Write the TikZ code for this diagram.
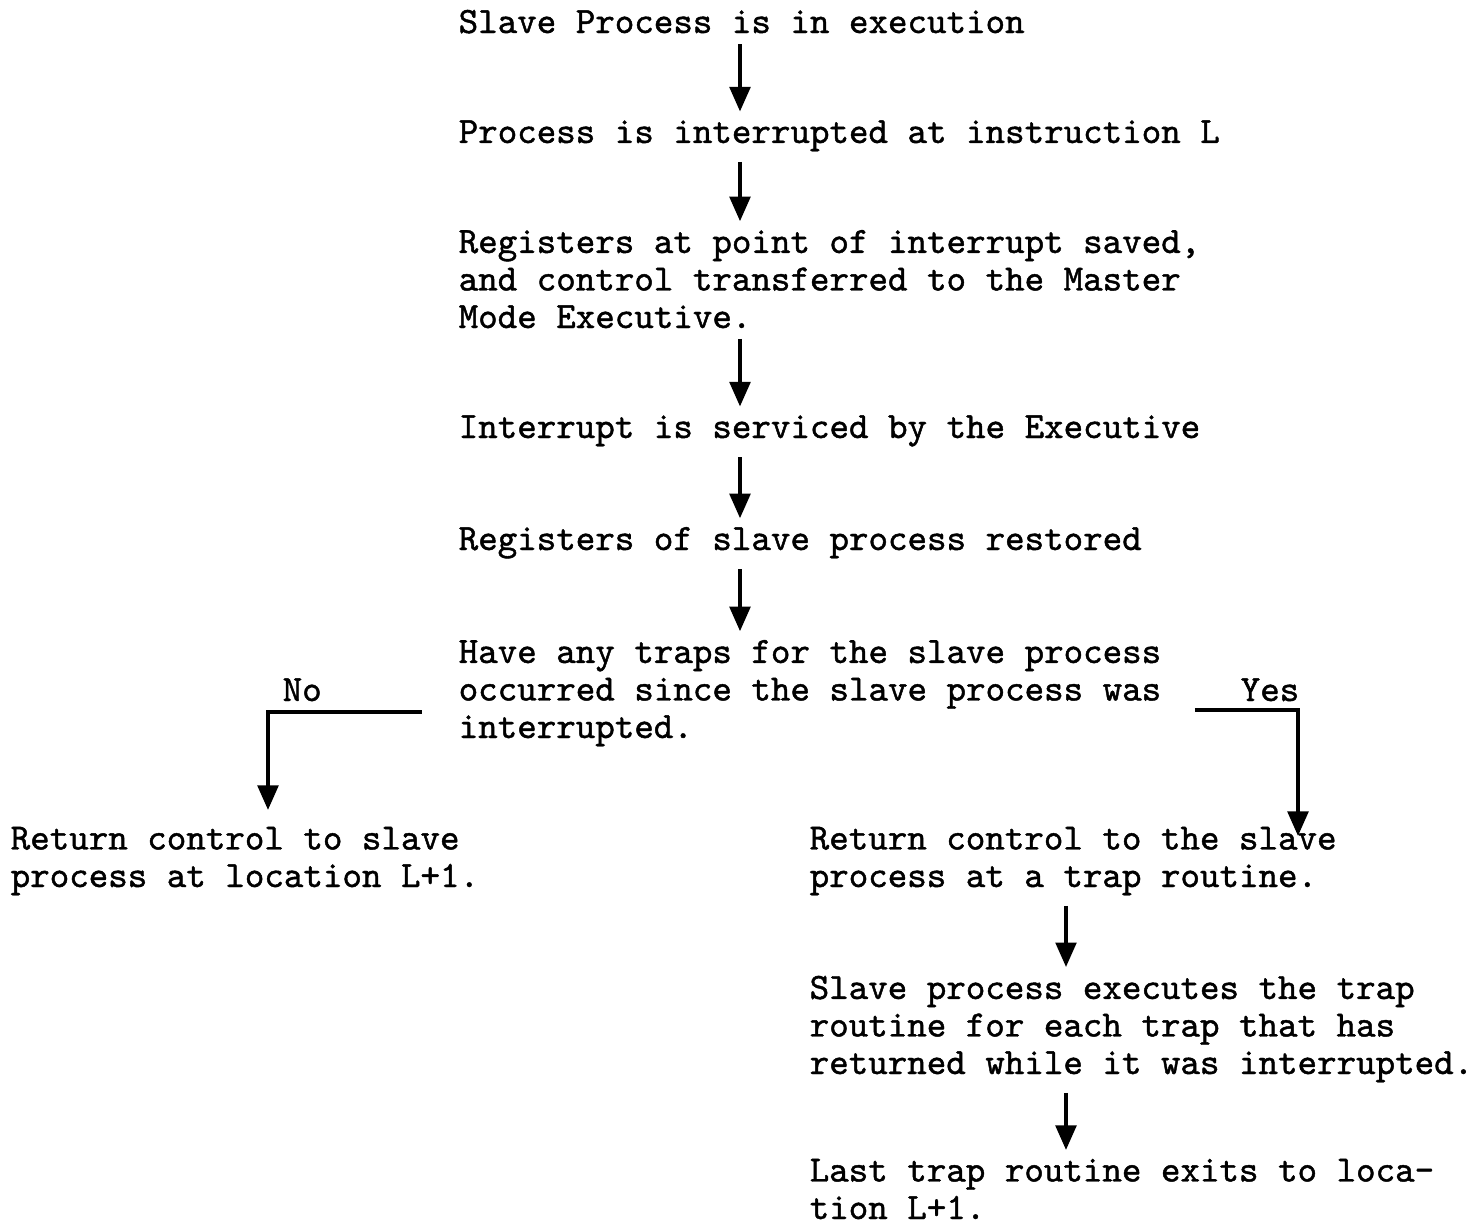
\documentclass[tikz,border=0pt]{standalone}
\usepackage{fontspec}
\newfontfamily\typewriter[FakeBold=1.2]{Latin Modern Mono}
\usetikzlibrary{arrows.meta,positioning}

\begin{document}
\begin{tikzpicture}[
  x=0.01cm, y=-0.01cm,
  step_text/.style={anchor=base west, inner sep=0pt, align=left,
                    font={\typewriter\fontsize{10.57}{10.67}\selectfont}},
  branch_label/.style={step_text},
  arrow/.style={-{Triangle[width=5.8pt,length=7pt]}, line width=1.2pt,
                shorten <=0.1cm, shorten >=0.08cm}
]
\useasboundingbox (0,0) rectangle (1481,1224);

% Column x-positions (nodes sit on the baseline of their last line)
\def\xMain{458}
\def\xNo{10}
\def\xYes{809}
\coordinate (mainx) at (740,0);
\coordinate (yesx) at (1066,0);

% Main column
\node[step_text] (S1) at (\xMain,33) {Slave Process is in execution};
\node[step_text] (S2) at (\xMain,143) {Process is interrupted at instruction L};
\node[step_text] (S3) at (\xMain,328) {Registers at point of interrupt saved,\\
  and control transferred to the Master\\Mode Executive.};
\node[step_text] (S4) at (\xMain,438) {Interrupt is serviced by the Executive};
\node[step_text] (S5) at (\xMain,550) {Registers of slave process restored};
\node[step_text] (S6) at (\xMain,738) {Have any traps for the slave process\\
  occurred since the slave process was\\interrupted.};

% Branches
\node[branch_label] (No) at (282,701) {No};
\node[branch_label] (Yes) at (1240,701) {Yes};
\coordinate (noturn) at (268,712);
\coordinate (yesturn) at (1298,710);

\node[step_text] (S7) at (\xNo,887) {Return control to slave\\process at location L+1.};
\node[step_text] (S8) at (\xYes,887) {Return control to the slave\\process at a trap routine.};
\node[step_text] (S9) at (\xYes,1074) {Slave process executes the trap\\
  routine for each trap that has\\returned while it was interrupted.};
\node[step_text] (S10) at (\xYes,1219) {Last trap routine exits to loca-\\tion L+1.};

% Connections down the main column
\foreach \a/\b in {S1/S2,S2/S3,S3/S4,S4/S5,S5/S6}{
  \draw[arrow] (\a.south -| mainx) -- (\b.north -| mainx);
}

% No / Yes
\draw[arrow, shorten <=0.36cm, shorten >=0.16cm]
  (S6.west |- noturn) -- (noturn) -- (S7.north -| noturn);
\draw[arrow, shorten <=0.33cm, shorten >=-0.1cm]
  (S6.east |- yesturn) -- (yesturn) -- (S8.north -| yesturn);

% Trap routine column
\draw[arrow] (S8.south -| yesx) -- (S9.north -| yesx);
\draw[arrow] (S9.south -| yesx) -- (S10.north -| yesx);

\end{tikzpicture}
\end{document}
